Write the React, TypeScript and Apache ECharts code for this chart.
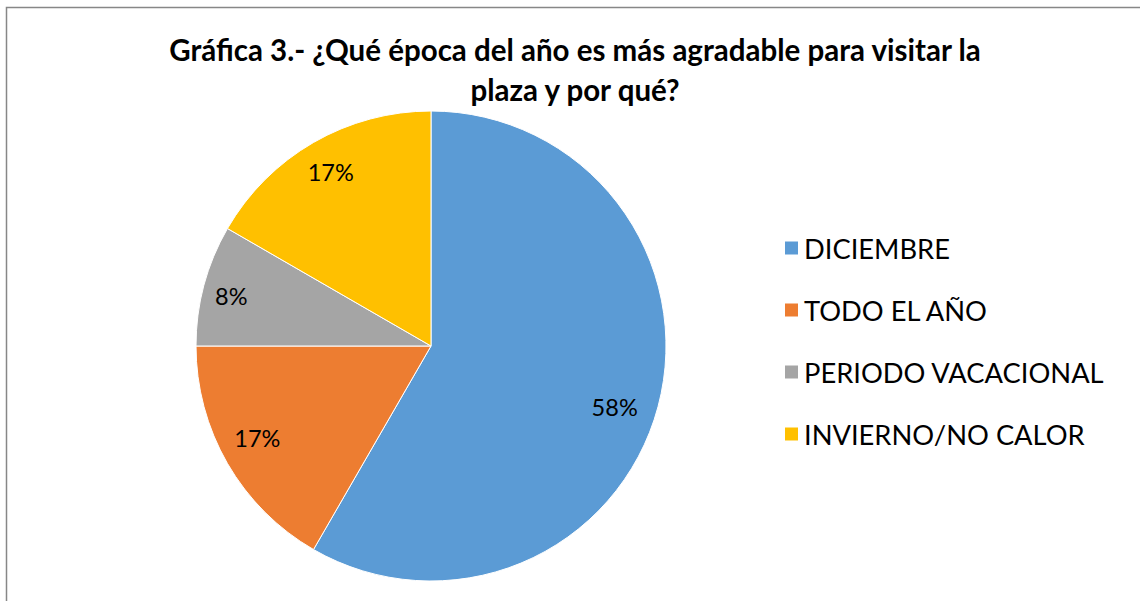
import React, { useEffect, useRef } from "react";
import * as echarts from "echarts";

const categories = ["DICIEMBRE", "TODO EL AÑO", "PERIODO VACACIONAL", "INVIERNO/NO CALOR"];
const values = [7, 2, 1, 2];
const colors = ["#5B9BD5", "#ED7D31", "#A5A5A5", "#FFC000"];
const titleText = "Gráfica 3.- ¿Qué época del año es más agradable para visitar la\nplaza y por qué?";

export default function App() {
  const ref = useRef<HTMLDivElement>(null);
  useEffect(() => {
    document.body.style.margin = "0";
    const chart = echarts.init(ref.current!, null, { renderer: "svg" });
    const data = categories.map((name, i) => ({ name, value: values[i], itemStyle: { color: colors[i] } }));
    const total = values.reduce((a, b) => a + b, 0);
    const nudges = [[-10, 9], [0, -8], [-6, 2], [0, 0]];
    chart.setOption({
      animation: false,
      backgroundColor: "#ffffff",
      textStyle: { fontFamily: "Lato" },
      title: {
        text: titleText,
        left: 570,
        top: 24,
        textAlign: "center",
        textStyle: { fontFamily: "Lato", fontWeight: "bold", fontSize: 29.5, color: "#000", lineHeight: 40 },
      },
      legend: {
        orient: "vertical",
        left: 778,
        top: 228,
        itemWidth: 15,
        itemHeight: 15,
        itemGap: 32,
        icon: "rect",
        data: categories,
        textStyle: { fontFamily: "Lato", fontSize: 27.3, color: "#000", lineHeight: 30, padding: [0, 0, 0, 0] },
      },
      graphic: [
        {
          type: "rect",
          shape: { x: 6.5, y: 7.5, width: 1200, height: 700 },
          style: { fill: "none", stroke: "#878787", lineWidth: 1.5 },
          silent: true,
          z: -1,
        },
      ],
      series: [
        {
          type: "pie",
          center: [431, 346],
          radius: [0, 235],
          startAngle: 90,
          clockwise: true,
          data,
          label: { show: false },
          labelLine: { show: false },
          itemStyle: { borderColor: "#ffffff", borderWidth: 1 },
          emphasis: { disabled: true },
        },
        {
          type: "pie",
          center: [431, 346],
          radius: [155, 240],
          startAngle: 90,
          clockwise: true,
          silent: true,
          legendHoverLink: false,
          data: categories.map((name, i) => ({ name, value: values[i], itemStyle: { color: "rgba(0,0,0,0)" } })),
          label: {
            show: true,
            position: "inside",
            fontFamily: "Lato",
            fontSize: 23.5,
            color: "#000",
            formatter: (p: any) => Math.round((p.value / total) * 100) + "%",
          },
          labelLayout: (p: any) => ({ dx: nudges[p.dataIndex][0], dy: nudges[p.dataIndex][1] }),
          labelLine: { show: false },
          emphasis: { disabled: true },
        },
      ],
    });
    return () => chart.dispose();
  }, []);
  return <div ref={ref} style={{ width: 1140, height: 601 }} />;
}
